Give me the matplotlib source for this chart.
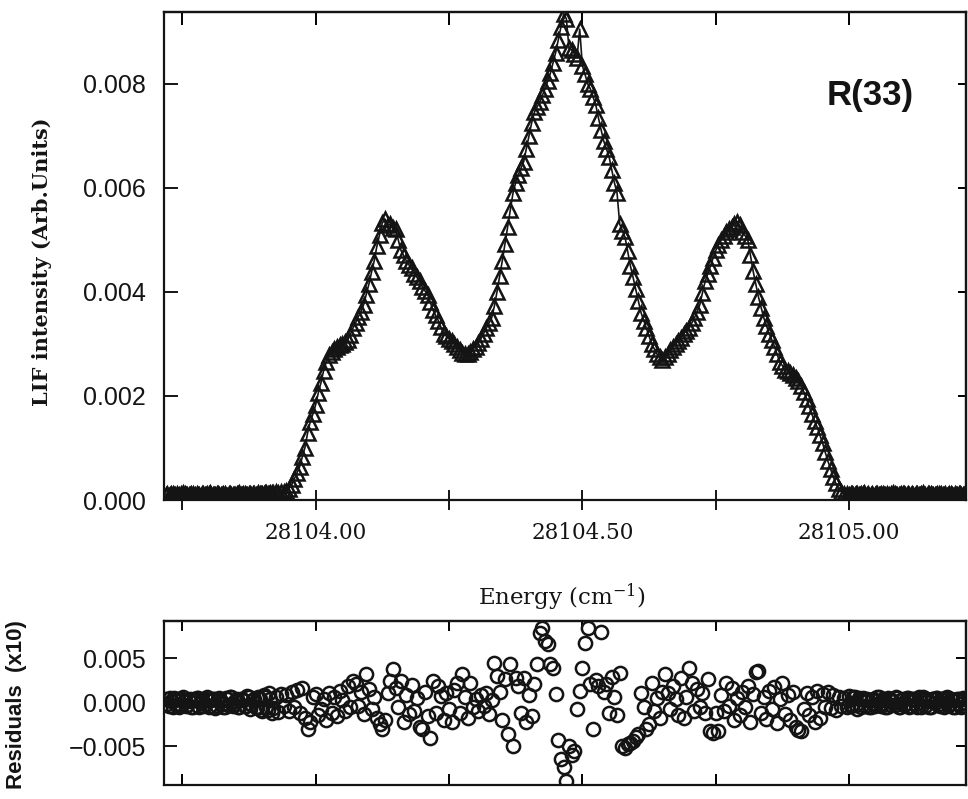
import matplotlib.pyplot as plt
from matplotlib.ticker import NullFormatter

# scan grid (cm-1)
energy = [
    28103.720, 28103.725, 28103.730, 28103.735, 28103.740, 28103.745, 28103.750, 28103.755, 28103.760, 28103.765,
    28103.770, 28103.775, 28103.780, 28103.785, 28103.790, 28103.795, 28103.800, 28103.805, 28103.810, 28103.815,
    28103.820, 28103.825, 28103.830, 28103.835, 28103.840, 28103.845, 28103.850, 28103.855, 28103.860, 28103.865,
    28103.870, 28103.875, 28103.880, 28103.885, 28103.890, 28103.895, 28103.900, 28103.905, 28103.910, 28103.915,
    28103.920, 28103.925, 28103.930, 28103.935, 28103.940, 28103.945, 28103.950, 28103.955, 28103.960, 28103.965,
    28103.970, 28103.975, 28103.980, 28103.985, 28103.990, 28103.995, 28104.000, 28104.005, 28104.010, 28104.015,
    28104.020, 28104.025, 28104.030, 28104.035, 28104.040, 28104.045, 28104.050, 28104.055, 28104.060, 28104.065,
    28104.070, 28104.075, 28104.080, 28104.085, 28104.090, 28104.095, 28104.100, 28104.105, 28104.110, 28104.115,
    28104.120, 28104.125, 28104.130, 28104.135, 28104.140, 28104.145, 28104.150, 28104.155, 28104.160, 28104.165,
    28104.170, 28104.175, 28104.180, 28104.185, 28104.190, 28104.195, 28104.200, 28104.205, 28104.210, 28104.215,
    28104.220, 28104.225, 28104.230, 28104.235, 28104.240, 28104.245, 28104.250, 28104.255, 28104.260, 28104.265,
    28104.270, 28104.275, 28104.280, 28104.285, 28104.290, 28104.295, 28104.300, 28104.305, 28104.310, 28104.315,
    28104.320, 28104.325, 28104.330, 28104.335, 28104.340, 28104.345, 28104.350, 28104.355, 28104.360, 28104.365,
    28104.370, 28104.375, 28104.380, 28104.385, 28104.390, 28104.395, 28104.400, 28104.405, 28104.410, 28104.415,
    28104.420, 28104.425, 28104.430, 28104.435, 28104.440, 28104.445, 28104.450, 28104.455, 28104.460, 28104.465,
    28104.470, 28104.475, 28104.480, 28104.485, 28104.490, 28104.495, 28104.500, 28104.505, 28104.510, 28104.515,
    28104.520, 28104.525, 28104.530, 28104.535, 28104.540, 28104.545, 28104.550, 28104.555, 28104.560, 28104.565,
    28104.570, 28104.575, 28104.580, 28104.585, 28104.590, 28104.595, 28104.600, 28104.605, 28104.610, 28104.615,
    28104.620, 28104.625, 28104.630, 28104.635, 28104.640, 28104.645, 28104.650, 28104.655, 28104.660, 28104.665,
    28104.670, 28104.675, 28104.680, 28104.685, 28104.690, 28104.695, 28104.700, 28104.705, 28104.710, 28104.715,
    28104.720, 28104.725, 28104.730, 28104.735, 28104.740, 28104.745, 28104.750, 28104.755, 28104.760, 28104.765,
    28104.770, 28104.775, 28104.780, 28104.785, 28104.790, 28104.795, 28104.800, 28104.805, 28104.810, 28104.815,
    28104.820, 28104.825, 28104.830, 28104.835, 28104.840, 28104.845, 28104.850, 28104.855, 28104.860, 28104.865,
    28104.870, 28104.875, 28104.880, 28104.885, 28104.890, 28104.895, 28104.900, 28104.905, 28104.910, 28104.915,
    28104.920, 28104.925, 28104.930, 28104.935, 28104.940, 28104.945, 28104.950, 28104.955, 28104.960, 28104.965,
    28104.970, 28104.975, 28104.980, 28104.985, 28104.990, 28104.995, 28105.000, 28105.005, 28105.010, 28105.015,
    28105.020, 28105.025, 28105.030, 28105.035, 28105.040, 28105.045, 28105.050, 28105.055, 28105.060, 28105.065,
    28105.070, 28105.075, 28105.080, 28105.085, 28105.090, 28105.095, 28105.100, 28105.105, 28105.110, 28105.115,
    28105.120, 28105.125, 28105.130, 28105.135, 28105.140, 28105.145, 28105.150, 28105.155, 28105.160, 28105.165,
    28105.170, 28105.175, 28105.180, 28105.185, 28105.190, 28105.195, 28105.200, 28105.205, 28105.210, 28105.215,
    28105.220,
]

# LIF intensity (arb. units), R(33) line
intensity = [
    0.00010, 0.00008, 0.00011, 0.00009, 0.00012, 0.00010, 0.00008, 0.00011, 0.00009, 0.00010,
    0.00012, 0.00009, 0.00010, 0.00008, 0.00011, 0.00010, 0.00012, 0.00009, 0.00010, 0.00011,
    0.00009, 0.00010, 0.00012, 0.00008, 0.00011, 0.00010, 0.00009, 0.00012, 0.00010, 0.00011,
    0.00010, 0.00012, 0.00009, 0.00011, 0.00010, 0.00012, 0.00011, 0.00013, 0.00012, 0.00014,
    0.00013, 0.00015, 0.00014, 0.00016, 0.00015, 0.00018, 0.00022, 0.00028, 0.00040, 0.00052,
    0.00063, 0.00082, 0.00100, 0.00128, 0.00150, 0.00165, 0.00182, 0.00205, 0.00225, 0.00248,
    0.00265, 0.00278, 0.00285, 0.00290, 0.00294, 0.00298, 0.00300, 0.00303, 0.00308, 0.00318,
    0.00330, 0.00340, 0.00352, 0.00362, 0.00375, 0.00395, 0.00415, 0.00438, 0.00460, 0.00488,
    0.00510, 0.00532, 0.00540, 0.00528, 0.00530, 0.00522, 0.00520, 0.00500, 0.00480, 0.00470,
    0.00460, 0.00452, 0.00445, 0.00435, 0.00428, 0.00420, 0.00410, 0.00402, 0.00395, 0.00380,
    0.00365, 0.00355, 0.00345, 0.00332, 0.00320, 0.00315, 0.00310, 0.00305, 0.00300, 0.00294,
    0.00288, 0.00283, 0.00280, 0.00281, 0.00285, 0.00290, 0.00295, 0.00302, 0.00310, 0.00320,
    0.00330, 0.00340, 0.00350, 0.00372, 0.00400, 0.00430, 0.00460, 0.00492, 0.00525, 0.00558,
    0.00590, 0.00610, 0.00625, 0.00638, 0.00650, 0.00675, 0.00700, 0.00725, 0.00745, 0.00755,
    0.00765, 0.00778, 0.00790, 0.00805, 0.00820, 0.00840, 0.00860, 0.00885, 0.00910, 0.00935,
    0.00925, 0.00868, 0.00865, 0.00858, 0.00850, 0.00905, 0.00835, 0.00818, 0.00800, 0.00790,
    0.00775, 0.00760, 0.00735, 0.00712, 0.00690, 0.00675, 0.00660, 0.00635, 0.00610, 0.00590,
    0.00530, 0.00518, 0.00505, 0.00478, 0.00450, 0.00428, 0.00405, 0.00382, 0.00360, 0.00345,
    0.00330, 0.00315, 0.00300, 0.00290, 0.00280, 0.00274, 0.00270, 0.00274, 0.00280, 0.00288,
    0.00295, 0.00300, 0.00305, 0.00312, 0.00320, 0.00325, 0.00330, 0.00340, 0.00350, 0.00362,
    0.00375, 0.00398, 0.00420, 0.00435, 0.00450, 0.00465, 0.00480, 0.00490, 0.00500, 0.00508,
    0.00515, 0.00520, 0.00525, 0.00530, 0.00535, 0.00528, 0.00515, 0.00508, 0.00500, 0.00470,
    0.00440, 0.00415, 0.00390, 0.00370, 0.00350, 0.00335, 0.00320, 0.00308, 0.00295, 0.00280,
    0.00265, 0.00258, 0.00250, 0.00248, 0.00245, 0.00240, 0.00235, 0.00228, 0.00220, 0.00208,
    0.00195, 0.00180, 0.00165, 0.00152, 0.00140, 0.00125, 0.00110, 0.00092, 0.00075, 0.00060,
    0.00045, 0.00032, 0.00022, 0.00016, 0.00012, 0.00011, 0.00010, 0.00012, 0.00009, 0.00011,
    0.00010, 0.00012, 0.00009, 0.00011, 0.00010, 0.00008, 0.00011, 0.00010, 0.00012, 0.00009,
    0.00011, 0.00010, 0.00008, 0.00012, 0.00010, 0.00009, 0.00011, 0.00010, 0.00012, 0.00009,
    0.00010, 0.00011, 0.00009, 0.00012, 0.00010, 0.00008, 0.00011, 0.00010, 0.00009, 0.00012,
    0.00010, 0.00009, 0.00011, 0.00010, 0.00012, 0.00008, 0.00010, 0.00011, 0.00009, 0.00010,
    0.00011,
]

# fit residuals (x10)
residual = [
    0.0003, -0.0004, 0.0001, 0.0005, -0.0002, -0.0005, 0.0004, 0.0001, -0.0003, 0.0004,
    -0.0005, 0.0002, 0.0005, -0.0001, -0.0004, 0.0004, -0.0006, 0.0002, 0.0004, -0.0004,
    0.0005, -0.0002, -0.0005, 0.0003, 0.0006, -0.0004, 0.0001, -0.0005, 0.0004, 0.0002,
    -0.0004, 0.0006, -0.0002, 0.0004, -0.0007, 0.0003, -0.0010, 0.0006, -0.0009, 0.0003,
    -0.0007, 0.0006, -0.0011, 0.0009, -0.0004, 0.0008, -0.0010, 0.0012, -0.0006, 0.0014,
    -0.0012, 0.0016, -0.0018, -0.0030, -0.0022, 0.0006, 0.0009, -0.0015, -0.0008, 0.0004,
    -0.0020, 0.0010, -0.0012, 0.0006, -0.0016, 0.0013, 0.0002, -0.0010, 0.0018, -0.0006,
    0.0024, 0.0020, -0.0004, 0.0011, -0.0014, 0.0032, 0.0015, -0.0008, 0.0006, -0.0018,
    -0.0025, -0.0030, -0.0020, 0.0010, 0.0024, 0.0037, 0.0016, -0.0006, 0.0024, -0.0022,
    0.0008, -0.0014, 0.0019, -0.0010, 0.0005, -0.0028, -0.0030, 0.0012, -0.0016, -0.0041,
    0.0024, -0.0012, 0.0018, 0.0007, -0.0020, 0.0010, -0.0008, -0.0022, 0.0014, 0.0022,
    -0.0012, 0.0032, 0.0006, -0.0018, 0.0022, -0.0006, 0.0004, -0.0010, 0.0008, -0.0004,
    0.0010, -0.0014, 0.0002, 0.0044, 0.0030, 0.0012, -0.0020, 0.0026, -0.0036, 0.0043,
    -0.0050, 0.0027, 0.0018, -0.0012, 0.0027, -0.0022, 0.0008, -0.0016, 0.0020, 0.0043,
    0.0078, 0.0084, 0.0069, 0.0066, 0.0043, 0.0039, 0.0009, -0.0043, -0.0064, -0.0074,
    -0.0090, -0.0050, -0.0060, -0.0055, -0.0008, 0.0013, 0.0039, 0.0067, 0.0084, 0.0021,
    -0.0030, 0.0025, 0.0018, 0.0080, 0.0012, 0.0020, -0.0012, 0.0028, 0.0006, -0.0015,
    0.0033, -0.0050, -0.0052, -0.0048, -0.0046, -0.0044, -0.0040, -0.0036, 0.0010, -0.0005,
    -0.0030, -0.0025, 0.0022, -0.0010, 0.0005, -0.0018, 0.0012, 0.0032, 0.0010, -0.0008,
    0.0018, 0.0004, -0.0015, 0.0027, -0.0018, 0.0006, 0.0039, 0.0022, -0.0010, 0.0015,
    -0.0006, 0.0010, -0.0012, 0.0026, -0.0033, -0.0035, -0.0012, -0.0033, 0.0008, -0.0010,
    0.0022, -0.0004, 0.0016, -0.0020, 0.0005, -0.0015, 0.0011, -0.0006, 0.0018, -0.0022,
    0.0009, 0.0034, 0.0035, -0.0012, 0.0006, -0.0019, 0.0013, -0.0008, 0.0017, -0.0024,
    0.0004, 0.0022, -0.0014, 0.0008, -0.0020, 0.0012, -0.0028, -0.0032, -0.0033, -0.0008,
    0.0010, -0.0015, 0.0006, -0.0022, 0.0013, -0.0018, 0.0009, -0.0005, 0.0011, -0.0007,
    0.0008, -0.0009, 0.0006, -0.0004, 0.0005, -0.0006, 0.0007, -0.0003, 0.0006, -0.0008,
    0.0003, 0.0005, -0.0004, 0.0002, -0.0005, 0.0004, -0.0002, 0.0006, -0.0004, 0.0002,
    -0.0005, 0.0004, 0.0001, -0.0003, 0.0005, -0.0006, 0.0003, -0.0002, 0.0005, -0.0004,
    0.0004, -0.0002, 0.0006, -0.0005, 0.0002, 0.0004, -0.0005, 0.0003, -0.0001, 0.0005,
    -0.0004, 0.0002, 0.0005, -0.0003, 0.0004, -0.0006, 0.0002, 0.0004, -0.0005, 0.0003,
    -0.0002,
]

# extra half-step samples in the flat wings (dense baseline band)
wing_energy = [
    28103.7225, 28103.7275, 28103.7325, 28103.7375, 28103.7425, 28103.7475, 28103.7525, 28103.7575,
    28103.7625, 28103.7675, 28103.7725, 28103.7775, 28103.7825, 28103.7875, 28103.7925, 28103.7975,
    28103.8025, 28103.8075, 28103.8125, 28103.8175, 28103.8225, 28103.8275, 28103.8325, 28103.8375,
    28103.8425, 28103.8475, 28103.8525, 28103.8575, 28103.8625, 28103.8675, 28103.8725, 28103.8775,
    28103.8825, 28103.8875, 28103.8925, 28103.8975, 28103.9025, 28103.9075, 28103.9125, 28103.9175,
    28105.0025, 28105.0075, 28105.0125, 28105.0175, 28105.0225, 28105.0275, 28105.0325, 28105.0375,
    28105.0425, 28105.0475, 28105.0525, 28105.0575, 28105.0625, 28105.0675, 28105.0725, 28105.0775,
    28105.0825, 28105.0875, 28105.0925, 28105.0975, 28105.1025, 28105.1075, 28105.1125, 28105.1175,
    28105.1225, 28105.1275, 28105.1325, 28105.1375, 28105.1425, 28105.1475, 28105.1525, 28105.1575,
    28105.1625, 28105.1675, 28105.1725, 28105.1775, 28105.1825, 28105.1875, 28105.1925, 28105.1975,
    28105.2025, 28105.2075, 28105.2125, 28105.2175,
]
wing_intensity = [
    0.00011, 0.00009, 0.00012, 0.00010, 0.00008, 0.00011, 0.00013, 0.00009,
    0.00010, 0.00012, 0.00008, 0.00011, 0.00010, 0.00012, 0.00009, 0.00011,
    0.00013, 0.00010, 0.00009, 0.00012, 0.00010, 0.00011, 0.00008, 0.00012,
    0.00010, 0.00009, 0.00011, 0.00013, 0.00010, 0.00012, 0.00009, 0.00011,
    0.00012, 0.00010, 0.00013, 0.00011, 0.00012, 0.00014, 0.00011, 0.00013,
    0.00011, 0.00010, 0.00012, 0.00009, 0.00011, 0.00013, 0.00010, 0.00008,
    0.00012, 0.00010, 0.00011, 0.00009, 0.00012, 0.00010, 0.00008, 0.00011,
    0.00013, 0.00009, 0.00010, 0.00012, 0.00011, 0.00009, 0.00010, 0.00012,
    0.00008, 0.00011, 0.00010, 0.00013, 0.00009, 0.00011, 0.00012, 0.00010,
    0.00009, 0.00011, 0.00012, 0.00010, 0.00008, 0.00011, 0.00010, 0.00012,
    0.00009, 0.00011, 0.00010, 0.00012,
]
wing_residual = [
    -0.0002, 0.0005, -0.0006, 0.0002, 0.0004, -0.0003, 0.0006, -0.0004,
    0.0001, -0.0006, 0.0003, 0.0005, -0.0005, 0.0002, -0.0002, 0.0006,
    -0.0004, 0.0003, -0.0007, 0.0004, 0.0001, -0.0005, 0.0005, -0.0003,
    0.0006, -0.0002, 0.0003, -0.0006, 0.0004, -0.0004, 0.0007, -0.0008,
    0.0002, -0.0005, 0.0006, -0.0009, 0.0008, -0.0006, 0.0010, -0.0012,
    -0.0004, 0.0006, -0.0003, 0.0005, -0.0006, 0.0003, 0.0004, -0.0005,
    0.0002, -0.0004, 0.0006, -0.0002, 0.0003, -0.0006, 0.0005, -0.0003,
    0.0001, 0.0006, -0.0005, 0.0002, -0.0003, 0.0005, -0.0006, 0.0004,
    0.0002, -0.0005, 0.0003, 0.0006, -0.0004, 0.0001, -0.0006, 0.0004,
    0.0005, -0.0002, 0.0003, -0.0005, 0.0006, -0.0003, 0.0002, -0.0006,
    0.0004, -0.0002, 0.0005, -0.0004,
]

x_ticks = [28103.75, 28104.00, 28104.25, 28104.50, 28104.75, 28105.00]
x_labels = ["", "28104.00", "", "28104.50", "", "28105.00"]
y_ticks = [0.000, 0.002, 0.004, 0.006, 0.008]
y_labels = ["0.000", "0.002", "0.004", "0.006", "0.008"]
res_ticks = [-0.005, 0.000, 0.005]
res_labels = ["\u22120.005", "0.000", "0.005"]

INK = "#141414"
plt.rcParams["mathtext.fontset"] = "dejavuserif"

fig = plt.figure(figsize=(9.68, 7.99), dpi=100)
ax = fig.add_axes([0.1694, 0.3742, 0.8286, 0.6108])
axr = fig.add_axes([0.1694, 0.0175, 0.8286, 0.2053])

tri = dict(marker="^", ms=9.5, mfc="none", mec=INK, mew=1.8)
circ = dict(ls="none", marker="o", ms=9.5, mfc="none", mec=INK, mew=1.8)

# spectrum
ax.plot(energy, intensity, color=INK, lw=1.2, **tri)
ax.plot(wing_energy, wing_intensity, ls="none", **tri)
ax.set_xlim(28103.716, 28105.219)
ax.set_ylim(0, 0.00938)
ax.set_xticks(x_ticks)
ax.set_xticklabels(x_labels, family="DejaVu Serif", fontsize=15.5)
ax.set_yticks(y_ticks)
ax.set_yticklabels(y_labels, family="Liberation Sans", fontsize=18)
ax.tick_params(axis="x", direction="inout", length=15, width=1.4, pad=8, colors=INK)
ax.tick_params(axis="y", direction="in", length=10, width=1.4, pad=13, colors=INK)

top = ax.secondary_xaxis("top")
top.set_xticks(x_ticks)
top.xaxis.set_major_formatter(NullFormatter())
top.tick_params(direction="in", length=9, width=1.4)
right = ax.secondary_yaxis("right")
right.set_yticks(y_ticks)
right.yaxis.set_major_formatter(NullFormatter())
right.tick_params(direction="in", length=6, width=1.4)

# residuals
axr.plot(energy, residual, **circ)
axr.plot(wing_energy, wing_residual, **circ)
axr.set_xlim(28103.716, 28105.219)
axr.set_ylim(-0.0094, 0.0092)
axr.set_xticks(x_ticks)
axr.xaxis.set_major_formatter(NullFormatter())
axr.set_yticks(res_ticks)
axr.set_yticklabels(res_labels, family="Liberation Sans", fontsize=18)
axr.tick_params(axis="x", direction="in", length=8, width=1.4)
axr.tick_params(axis="y", direction="in", length=9, width=1.4, pad=13, colors=INK)

rtop = axr.secondary_xaxis("top")
rtop.set_xticks(x_ticks)
rtop.xaxis.set_major_formatter(NullFormatter())
rtop.tick_params(direction="in", length=7, width=1.4)
rright = axr.secondary_yaxis("right")
rright.set_yticks(res_ticks)
rright.yaxis.set_major_formatter(NullFormatter())
rright.tick_params(direction="in", length=7, width=1.4)

for a in (ax, axr, top, right, rtop, rright):
    for s in a.spines.values():
        s.set_linewidth(1.6)
        s.set_color(INK)

fig.text(42 / 968, 1 - 262 / 799, "LIF intensity (Arb.Units)", rotation=90,
         ha="center", va="center", family="DejaVu Serif", fontweight="bold",
         fontsize=15, color=INK)
fig.text(562 / 968, 1 - 597 / 799, r"Energy (cm$^{-1}$)", ha="center", va="center",
         family="DejaVu Serif", fontsize=16.5, color=INK)
fig.text(17 / 968, 1 - 705 / 799, "Residuals  (x10)", rotation=90,
         ha="center", va="center", family="Liberation Sans", fontweight="bold",
         fontsize=16, color=INK)
fig.text(870 / 968, 1 - 95 / 799, "R(33)", ha="center", va="center",
         family="Liberation Sans", fontweight="bold", fontsize=25, color=INK)

fig.savefig("out.png", dpi=100, facecolor="white")
